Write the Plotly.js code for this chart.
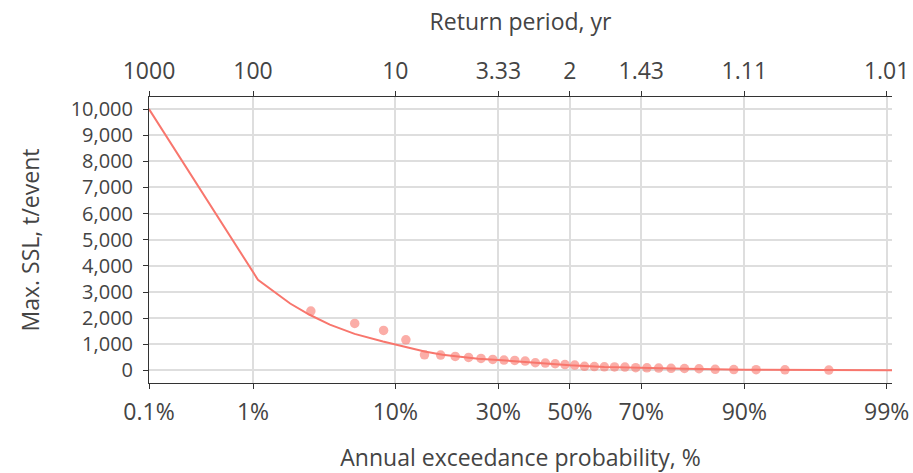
<!DOCTYPE html>
<html>
<head>
<meta charset="utf-8">
<script src="https://cdn.plot.ly/plotly-3.0.1.min.js"></script>
<style>html,body{margin:0;padding:0;background:#fff;}#chart{width:913px;height:473px;}</style>
</head>
<body>
<div id="chart"></div>
<script>
// ---- data ----
// Fitted curve: annual exceedance probability (%) and Max. SSL (t/event)
const curveProb = [0.1, 1.1, 2.0, 2.8, 3.9, 5.7, 8.5, 11.4, 14.3, 17.5, 21.6, 25, 30, 40, 50, 60, 70, 80, 90, 95, 99.1];
const curveSSL  = [10000, 3470, 2560, 2130, 1750, 1400, 1110, 895, 727, 600, 512, 450, 400, 290, 200, 135, 95, 62, 30, 15, 3];

// Observed annual maxima (plotting positions, %) and values
const obsProb = [2.86, 5.71, 8.57, 11.43, 14.29, 17.14, 20.00, 22.86, 25.71, 28.57, 31.43, 34.29, 37.14, 40.00, 42.86, 45.71, 48.57,
                 51.43, 54.29, 57.14, 60.00, 62.86, 65.71, 68.57, 71.43, 74.29, 77.14, 80.00, 82.86, 85.71, 88.57, 91.43, 94.29, 97.14];
const obsSSL  = [2270, 1800, 1530, 1170, 600, 590, 536, 497, 459, 421, 398, 383, 360, 295, 283, 256, 225,
                 206, 160, 150, 141, 135, 128, 108, 100, 92, 80, 75, 65, 45, 35, 30, 25, 15];

// Axis ticks
const probTicks      = [0.1, 1, 10, 30, 50, 70, 90, 99];
const probTickLabels = ['0.1%', '1%', '10%', '30%', '50%', '70%', '90%', '99%'];
const returnLabels   = ['1000', '100', '10', '3.33', '2', '1.43', '1.11', '1.01'];
const sslTicks       = [0, 1000, 2000, 3000, 4000, 5000, 6000, 7000, 8000, 9000, 10000];

// ---- normal-probability (probit) transform for the x scale ----
function probit(p) {
  const a = [-3.969683028665376e+01, 2.209460984245205e+02, -2.759285104469687e+02, 1.383577518672690e+02, -3.066479806614716e+01, 2.506628277459239e+00];
  const b = [-5.447609879822406e+01, 1.615858368580409e+02, -1.556989798598866e+02, 6.680131188771972e+01, -1.328068155288572e+01];
  const c = [-7.784894002430293e-03, -3.223964580411365e-01, -2.400758277161838e+00, -2.549732539343734e+00, 4.374664141464968e+00, 2.938163982698783e+00];
  const d = [7.784695709041462e-03, 3.224671290700398e-01, 2.445134137142996e+00, 3.754408661907416e+00];
  const pl = 0.02425, ph = 1 - pl;
  let q, r;
  if (p < pl) {
    q = Math.sqrt(-2 * Math.log(p));
    return (((((c[0]*q + c[1])*q + c[2])*q + c[3])*q + c[4])*q + c[5]) / ((((d[0]*q + d[1])*q + d[2])*q + d[3])*q + 1);
  } else if (p <= ph) {
    q = p - 0.5; r = q * q;
    return (((((a[0]*r + a[1])*r + a[2])*r + a[3])*r + a[4])*r + a[5]) * q / (((((b[0]*r + b[1])*r + b[2])*r + b[3])*r + b[4])*r + 1);
  } else {
    q = Math.sqrt(-2 * Math.log(1 - p));
    return -(((((c[0]*q + c[1])*q + c[2])*q + c[3])*q + c[4])*q + c[5]) / ((((d[0]*q + d[1])*q + d[2])*q + d[3])*q + 1);
  }
}
const z = arr => arr.map(v => probit(v / 100));

const COL = '#F8766D';
const FONT = 'Open Sans, sans-serif';
const TXT = '#444';
const XTICK = 23, YTICK = 20, TITLE = 23;

const traces = [
  {
    x: z(curveProb), y: curveSSL, type: 'scatter', mode: 'lines',
    line: {color: COL, width: 2}, hoverinfo: 'skip', xaxis: 'x', yaxis: 'y'
  },
  {
    x: z(obsProb), y: obsSSL, type: 'scatter', mode: 'markers',
    marker: {color: COL, size: 9.5, opacity: 0.6}, xaxis: 'x', yaxis: 'y'
  },
  {
    x: z(curveProb), y: curveSSL, type: 'scatter', mode: 'lines',
    line: {color: 'rgba(0,0,0,0)', width: 0}, hoverinfo: 'skip', xaxis: 'x2', yaxis: 'y'
  }
];

const xr = [probit(curveProb[0] / 100), probit(curveProb[curveProb.length - 1] / 100)];

const layout = {
  width: 913, height: 473,
  margin: {l: 149, r: 21, t: 97, b: 90, pad: 0},
  paper_bgcolor: '#fff', plot_bgcolor: '#fff',
  showlegend: false,
  font: {family: FONT, size: XTICK, color: TXT},
  xaxis: {
    range: xr, tickmode: 'array', tickvals: z(probTicks), ticktext: probTickLabels,
    showgrid: true, gridcolor: '#dedede', gridwidth: 2, zeroline: false,
    showline: true, linecolor: '#333', linewidth: 1,
    ticks: 'outside', ticklen: 5, tickcolor: '#333', ticklabelstandoff: 3,
    tickfont: {family: FONT, size: XTICK, color: TXT},
    title: {text: 'Annual exceedance probability, %', font: {family: FONT, size: TITLE, color: TXT}, standoff: 27}
  },
  xaxis2: {
    overlaying: 'x', side: 'top', matches: 'x', range: xr,
    tickmode: 'array', tickvals: z(probTicks), ticktext: returnLabels,
    showgrid: false, zeroline: false,
    showline: true, linecolor: '#333', linewidth: 1,
    ticks: 'outside', ticklen: 5, tickcolor: '#333', ticklabelstandoff: 3,
    tickfont: {family: FONT, size: XTICK, color: TXT},
    title: {text: 'Return period, yr', font: {family: FONT, size: TITLE, color: TXT}, standoff: 16}
  },
  yaxis: {
    range: [-480, 10460], tickmode: 'array', tickvals: sslTicks, tickformat: ',d',
    showgrid: true, gridcolor: '#dedede', gridwidth: 2, zeroline: false,
    showline: true, linecolor: '#333', linewidth: 1,
    ticks: 'outside', ticklen: 5, tickcolor: '#333', ticklabelstandoff: 6,
    tickfont: {family: FONT, size: YTICK, color: TXT},
    title: {text: 'Max. SSL, t/event', font: {family: FONT, size: TITLE, color: TXT}, standoff: 24}
  }
};

Plotly.newPlot('chart', traces, layout, {displayModeBar: false, staticPlot: true});
</script>
</body>
</html>
